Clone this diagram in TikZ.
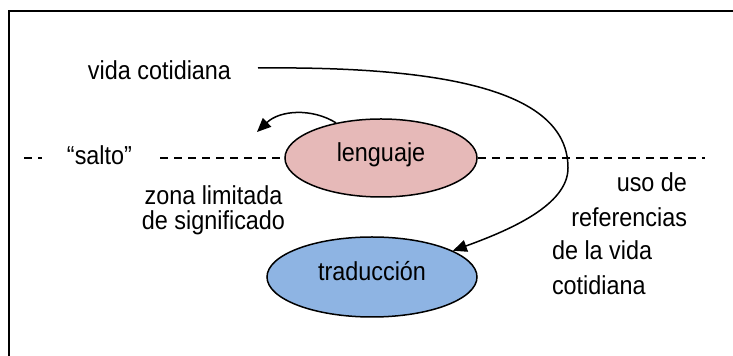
\documentclass[tikz,border=0pt]{standalone}
\usepackage{fontspec}
\setmainfont[FakeStretch=0.9]{Liberation Sans}
\usetikzlibrary{arrows.meta,shapes.geometric}
\definecolor{pinkfill}{HTML}{E6B9B8}
\definecolor{bluefill}{HTML}{8EB4E3}
\begin{document}
\begin{tikzpicture}[x=0.5pt,y=-0.5pt,
  txt/.style={font=\fontsize{13}{12.15}\selectfont, inner sep=0pt, outer sep=0pt},
  oval/.style={ellipse, draw=black, line width=0.75pt, inner sep=0pt,
     font=\fontsize{13}{13}\selectfont, text height=0.7em, text depth=0.3em},
  dashline/.style={line width=0.6pt, dash pattern=on 4pt off 3pt},
  arr/.style={line width=0.75pt, -{Triangle[length=7pt,width=6pt]}}]
\useasboundingbox (0,0) rectangle (733,356);
\fill[white] (0,0) rectangle (733,356);
% frame
\draw[line width=1pt] (9,356) -- (9,11) -- (733,11);
% ellipses
\node[oval, fill=pinkfill, minimum width=96pt, minimum height=39pt] (leng) at (381,158) {lenguaje};
\node[oval, fill=bluefill, minimum width=105pt, minimum height=40pt] (trad) at (372,277) {traducción};
% texts
\node[txt, anchor=base] (vida) at (159.5,80) {vida cotidiana};
\node[txt, anchor=base] (salto) at (99.5,165) {“salto”};
\node[txt, anchor=base, align=center] (zona) at (213.5,229.3) {zona limitada\\de significado};
\node[txt, anchor=base east, align=right, font=\fontsize{13}{17.5}\selectfont] (uso) at (687,226.7) {uso de\\referencias};
\node[txt, anchor=base west, align=left, font=\fontsize{13}{17.5}\selectfont] (delavida) at (552,295) {de la vida\\cotidiana};
% dashed line
\coordinate (d0) at (24,158);
\coordinate (d1) at (42,158);
\coordinate (d2) at (160,158);
\coordinate (d3) at (705,158);
\draw[dashline] (d0) -- (d1);
\draw[dashline] (d2) -- (leng.west);
\draw[dashline] (leng.east) -- (d3);
% big curve
\coordinate (cstart) at (258,68);
\coordinate (cright) at (568,168);
\draw[arr] (cstart) .. controls (460,66) and (568,95) .. (cright)
  .. controls (568,205) and (510,230) .. (trad.18);
% small arrow
\coordinate (stip) at (257,132);
\draw[arr] (leng.142) .. controls (312,108) and (280,110) .. (stip);
\end{tikzpicture}
\end{document}
